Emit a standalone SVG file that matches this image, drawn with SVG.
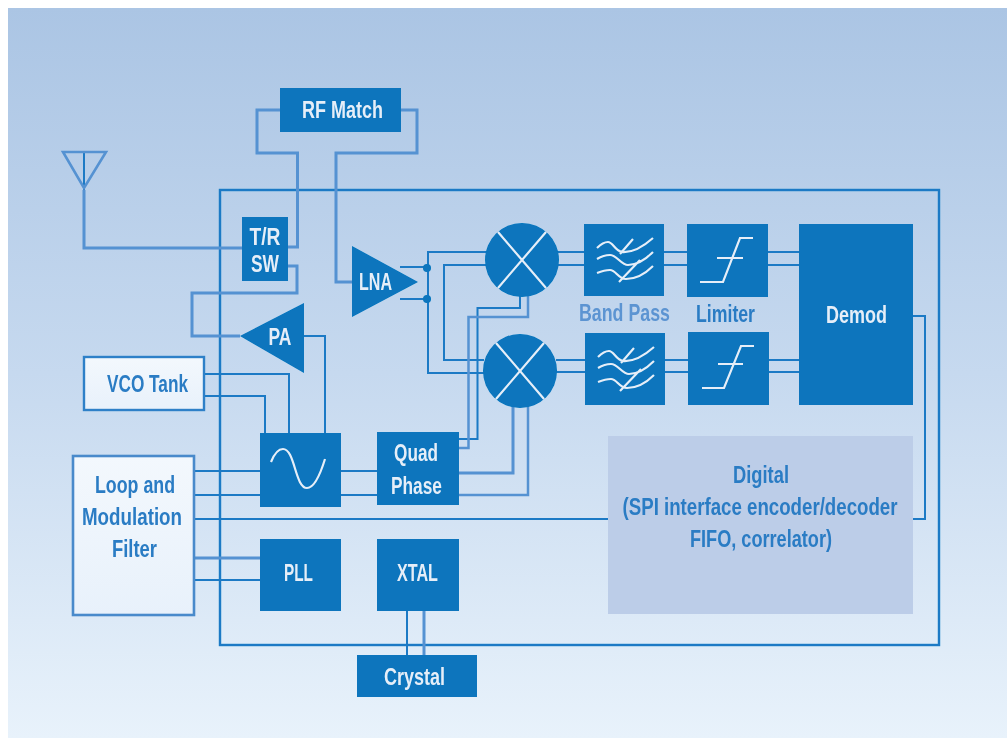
<svg xmlns="http://www.w3.org/2000/svg" xmlns:xlink="http://www.w3.org/1999/xlink" width="1007" height="740" viewBox="0 0 1007 740">
<style>
.b{fill:#0774bd}
.t{font-family:"Liberation Sans Narrow","Liberation Sans",sans-serif;font-size:24px;font-weight:700;text-anchor:middle}
.w{fill:#e6eef8}
.d{fill:#2a7cc4}
.l{fill:#5c94d2}
.c{fill:none;stroke:#1b7ac5;stroke-width:2}
.k{fill:none;stroke:#5592d2;stroke-width:3}
.i{fill:none;stroke:#e6eef8;stroke-width:2.200}
</style>
<defs>
<linearGradient id="bg" x1="0" y1="0" x2="0" y2="1"><stop offset="0" stop-color="#abc5e4"/><stop offset="0.5" stop-color="#c6d9ef"/><stop offset="1" stop-color="#e8f2fb"/></linearGradient>
<linearGradient id="wb" x1="0" y1="0" x2="0" y2="1"><stop offset="0" stop-color="#f3f8fd"/><stop offset="1" stop-color="#e8f1fb"/></linearGradient>
<filter id="soft" filterUnits="userSpaceOnUse" x="0" y="0" width="1007" height="740"><feGaussianBlur stdDeviation="0.5"/></filter>
<g id="bpi" class="i"><path d="M13,24C17,20 20,18 24,18C29,18 31,27 38,28C50,29 60,22 69,14M13,35C18,32 22,31 26,31C33,31 37,41 44,41C54,41 62,35 69,28M13,49C18,47 22,46 26,46C32,46 34,55 42,55C53,55 62,49 69,42M36,30L49,15M35,58L56,36"/></g>
<g id="mix"><circle r="37" class="b"/><path d="M-24,-28L24,28M24,-28L-24,28" class="i"/></g>
</defs>
<rect width="1007" height="740" fill="#fff"/>
<rect x="8" y="8" width="999" height="730" fill="url(#bg)"/>
<g filter="url(#soft)">
<g id="chip"><rect x="220" y="190" width="719" height="455" class="c" style="stroke-width:2.4"/></g>
<g id="connectors">
<path class="k" d="M280,110H257V153H297.500V247H288"/>
<path class="k" d="M401,110H417V153H336V282H353"/>
<path class="c" d="M84,152V190"/>
<path class="k" d="M84,190V248H242"/>
<path class="k" d="M288,266H297V293H192V336H240"/>
<path class="c" d="M304,336H325V433"/>
<path class="c" d="M204,374H289V433"/>
<path class="c" d="M204,396H265V433"/>
<path class="c" d="M400,267H427M400,299H427"/>
<path class="c" d="M486,252H428V373H484"/>
<path class="c" d="M486,265H444V360H484"/>
<path class="c" d="M459,439H477.500V308H520V296"/>
<path class="k" style="stroke-width:2.500" d="M459,448H468.500V317H528V296"/>
<path class="k" d="M459,473H513V407"/>
<path class="k" style="stroke-width:2.500" d="M459,495H528V407"/>
<path class="c" d="M556,252H584M556,265H584M664,252H687M664,265H687M768,252H799M768,265H799"/>
<path class="c" d="M556,360H585M556,372H585M665,360H688M665,372H688M769,360H799M769,372H799"/>
<path class="c" d="M913,316H925V519H194"/>
<path class="c" d="M194,471H260M194,495H260M341,471H377M341,495H377"/>
<path class="k" d="M194,558H260"/>
<path class="c" d="M194,580H260"/>
<path class="c" d="M407,611V655"/>
<path class="k" d="M424,611V655"/>
<circle cx="427" cy="268" r="4" class="b"/>
<circle cx="427" cy="299" r="4" class="b"/>
</g>
<g id="antenna"><path d="M63,152H106L84,188Z" class="k" style="stroke-width:2.600"/></g>
<g id="rf-match"><rect x="280" y="88" width="121" height="44" class="b"/><text x="342.500" y="118" class="t w" textLength="81" lengthAdjust="spacingAndGlyphs">RF Match</text></g>
<g id="tr-sw"><rect x="242" y="217" width="46" height="64" class="b"/><text x="265" y="245" class="t w" textLength="31" lengthAdjust="spacingAndGlyphs">T/R</text><text x="265" y="272" class="t w" textLength="28" lengthAdjust="spacingAndGlyphs">SW</text></g>
<g id="lna"><path d="M352,246V317L418,282Z" class="b"/><text x="375.500" y="290" class="t w" textLength="33" lengthAdjust="spacingAndGlyphs">LNA</text></g>
<g id="pa"><path d="M240,336L304,303V373Z" class="b"/><text x="280" y="345" class="t w" textLength="23" lengthAdjust="spacingAndGlyphs">PA</text></g>
<g id="vco-tank"><rect x="84" y="357" width="120" height="53" fill="url(#wb)" stroke="#2f80c8" stroke-width="2.400"/><text x="147.500" y="392" class="t d" textLength="81" lengthAdjust="spacingAndGlyphs">VCO Tank</text></g>
<g id="vco"><rect x="260" y="433" width="81" height="74" class="b"/><path class="i" d="M271,462C275,452 279,449 283,449C295,449 295,488 307,488C315,488 321,472 325,459"/></g>
<g id="quad-phase"><rect x="377" y="432" width="82" height="73" class="b"/><text x="416" y="461" class="t w" textLength="44" lengthAdjust="spacingAndGlyphs">Quad</text><text x="416.500" y="494" class="t w" textLength="51" lengthAdjust="spacingAndGlyphs">Phase</text></g>
<g id="filter"><rect x="73" y="456" width="121" height="159" fill="url(#wb)" stroke="#4a8acb" stroke-width="2.600"/><text x="135" y="493" class="t d" textLength="80" lengthAdjust="spacingAndGlyphs">Loop and</text><text x="132" y="525" class="t d" textLength="100" lengthAdjust="spacingAndGlyphs">Modulation</text><text x="134.500" y="557" class="t d" textLength="45" lengthAdjust="spacingAndGlyphs">Filter</text></g>
<g id="pll"><rect x="260" y="539" width="81" height="72" class="b"/><text x="298.500" y="581" class="t w" textLength="29" lengthAdjust="spacingAndGlyphs">PLL</text></g>
<g id="xtal"><rect x="377" y="539" width="82" height="72" class="b"/><text x="417.500" y="581" class="t w" textLength="41" lengthAdjust="spacingAndGlyphs">XTAL</text></g>
<g id="crystal"><rect x="357" y="655" width="120" height="42" class="b"/><text x="414.500" y="685" class="t w" textLength="61" lengthAdjust="spacingAndGlyphs">Crystal</text></g>
<g id="mixer-1"><use xlink:href="#mix" href="#mix" transform="translate(522,260)"/></g>
<g id="mixer-2"><use xlink:href="#mix" href="#mix" transform="translate(520,371)"/></g>
<g id="band-pass-1"><rect x="584" y="224" width="80" height="72" class="b"/><use xlink:href="#bpi" href="#bpi" transform="translate(584,224)"/></g>
<g id="band-pass-2"><rect x="585" y="333" width="80" height="72" class="b"/><use xlink:href="#bpi" href="#bpi" transform="translate(585,333)"/></g>
<text x="624.500" y="321" class="t l" textLength="91" lengthAdjust="spacingAndGlyphs">Band Pass</text>
<g id="limiter-1"><rect x="687" y="224" width="81" height="73" class="b"/><path class="i" d="M700,282H723L740,238H753M717,258H743"/></g>
<g id="limiter-2"><rect x="688" y="332" width="81" height="73" class="b"/><path class="i" d="M702,388H724L741,346H754M718,364H743"/></g>
<text x="725.500" y="322" class="t d" textLength="59" lengthAdjust="spacingAndGlyphs">Limiter</text>
<g id="demod"><rect x="799" y="224" width="114" height="181" class="b"/><text x="856.500" y="323" class="t w" textLength="61" lengthAdjust="spacingAndGlyphs">Demod</text></g>
<g id="digital"><rect x="608" y="436" width="305" height="178" fill="#bccde8"/><text x="761" y="483" class="t d" textLength="56" lengthAdjust="spacingAndGlyphs">Digital</text><text x="760" y="515" class="t d" textLength="275" lengthAdjust="spacingAndGlyphs">(SPI interface encoder/decoder</text><text x="761" y="547" class="t d" textLength="142" lengthAdjust="spacingAndGlyphs">FIFO, correlator)</text></g>
</g>
</svg>
